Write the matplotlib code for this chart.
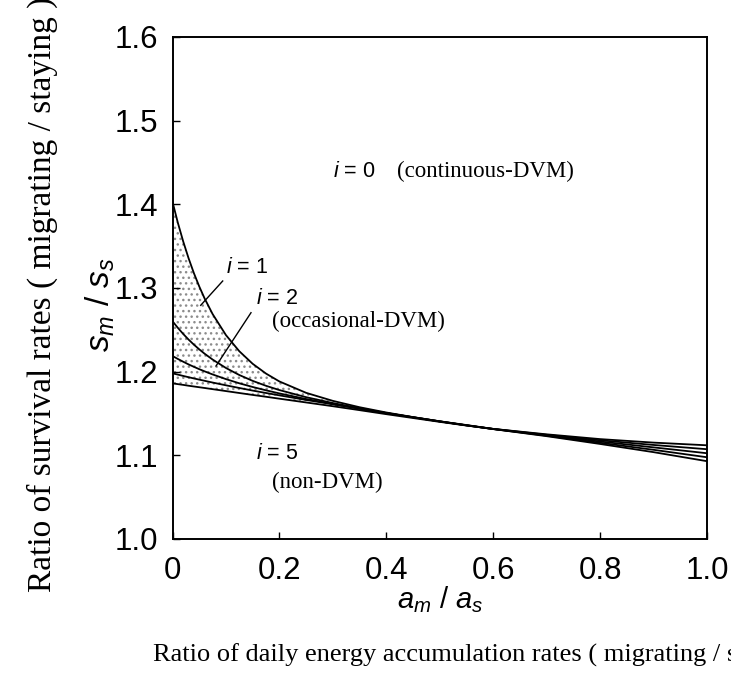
import matplotlib
matplotlib.use("Agg")
import matplotlib.pyplot as plt
import numpy as np

plt.rcParams['mathtext.fontset'] = 'custom'
plt.rcParams['mathtext.it'] = 'Liberation Sans:italic'
plt.rcParams['mathtext.rm'] = 'Liberation Sans'
plt.rcParams['font.family'] = ['Liberation Sans', 'DejaVu Sans']

# ---- data ----
x_ratio = [0, 0.01, 0.02, 0.03, 0.04, 0.05, 0.06, 0.075, 0.1, 0.125, 0.15, 0.175,
           0.2, 0.25, 0.3, 0.35, 0.4, 0.45, 0.5, 0.55, 0.6, 0.7, 0.8, 0.9, 1.0]
s_i1 = [1.4030, 1.3780, 1.3557, 1.3357, 1.3178, 1.3019, 1.2876, 1.2689, 1.2437, 1.2244,
        1.2094, 1.1977, 1.1883, 1.1747, 1.1651, 1.1575, 1.1512, 1.1457, 1.1406, 1.1358,
        1.1314, 1.1229, 1.1136, 1.1038, 1.0930]
s_i2 = [1.2603, 1.2524, 1.2451, 1.2384, 1.2323, 1.2267, 1.2215, 1.2145, 1.2044, 1.1960,
        1.1890, 1.1831, 1.1780, 1.1695, 1.1625, 1.1563, 1.1506, 1.1455, 1.1405, 1.1359,
        1.1314, 1.1235, 1.1150, 1.1066, 1.0977]
s_i3 = [1.2187, 1.2152, 1.2119, 1.2087, 1.2058, 1.2030, 1.2004, 1.1967, 1.1911, 1.1861,
        1.1817, 1.1777, 1.1740, 1.1673, 1.1614, 1.1558, 1.1504, 1.1454, 1.1405, 1.1359,
        1.1315, 1.1240, 1.1165, 1.1095, 1.1025]
s_i4 = [1.1980, 1.1965, 1.1949, 1.1934, 1.1919, 1.1905, 1.1891, 1.1870, 1.1837, 1.1805,
        1.1774, 1.1745, 1.1717, 1.1662, 1.1610, 1.1557, 1.1505, 1.1456, 1.1407, 1.1362,
        1.1316, 1.1245, 1.1180, 1.1124, 1.1073]
s_i5 = [1.1860, 1.1851, 1.1842, 1.1832, 1.1823, 1.1814, 1.1805, 1.1791, 1.1768, 1.1745,
        1.1722, 1.1700, 1.1677, 1.1632, 1.1587, 1.1540, 1.1492, 1.1446, 1.1400, 1.1356,
        1.1316, 1.1251, 1.1194, 1.1152, 1.1120]
curves = [s_i1, s_i2, s_i3, s_i4, s_i5]

x_ticks = [0, 0.2, 0.4, 0.6, 0.8, 1.0]
x_tick_labels = ['0', '0.2', '0.4', '0.6', '0.8', '1.0']
y_ticks = [1.0, 1.1, 1.2, 1.3, 1.4, 1.5, 1.6]
y_tick_labels = ['1.0', '1.1', '1.2', '1.3', '1.4', '1.5', '1.6']
shade_until = 0.42

W, H = 731, 677
fig = plt.figure(figsize=(W / 100, H / 100), dpi=100)
L, R, T, B = 172.5, 707, 37, 539
ax = fig.add_axes([L / W, 1 - B / H, (R - L) / W, (B - T) / H])

xa = np.array(x_ratio)
for c in curves:
    ax.plot(xa, c, color='black', lw=1.3, solid_capstyle='butt')

ax.fill_between(xa, s_i5, s_i1, where=xa <= shade_until + 1e-9, hatch='...',
                facecolor='none', edgecolor='0.55', linewidth=0)

ax.set_xlim(0, 1)
ax.set_ylim(1.0, 1.6)
ax.set_xticks(x_ticks)
ax.set_xticklabels(x_tick_labels)
ax.set_yticks(y_ticks)
ax.set_yticklabels(y_tick_labels)
ax.tick_params(direction='in', length=5, width=1, labelsize=22.5)
ax.tick_params(axis='x', pad=12)
ax.tick_params(axis='y', pad=10)
for s in ax.spines.values():
    s.set_linewidth(1.4)

def px2d(px, py):
    return (px - L) / (R - L), 1.0 + (B - py) / (B - T) * 0.6

sans = 15.5
serif = 16.5
# i = 0
ax.text(*px2d(333, 171), '$i$ = 0', fontsize=sans, va='center', ha='left')
ax.text(*px2d(397, 171), '(continuous-DVM)', fontsize=serif, family='Liberation Serif',
        va='center', ha='left')
# i = 1
ax.text(*px2d(226, 268), '$i$ = 1', fontsize=sans, va='center', ha='left')
p1 = px2d(222.7, 281); p2 = px2d(200.7, 305.3)
ax.plot([p1[0], p2[0]], [p1[1], p2[1]], color='black', lw=1.0)
# i = 2
ax.text(*px2d(256, 298.5), '$i$ = 2', fontsize=sans, va='center', ha='left')
ax.text(*px2d(271.7, 321), '(occasional-DVM)', fontsize=serif, family='Liberation Serif',
        va='center', ha='left')
p1 = px2d(251, 312.7); p2 = px2d(216, 366)
ax.plot([p1[0], p2[0]], [p1[1], p2[1]], color='black', lw=1.0)
# i = 5
ax.text(*px2d(256, 453.5), '$i$ = 5', fontsize=sans, va='center', ha='left')
ax.text(*px2d(272, 482), '(non-DVM)', fontsize=serif, family='Liberation Serif',
        va='center', ha='left')

# axis labels
fig.text(440 / W, 1 - 600 / H, r'$a_m$ / $a_s$', fontsize=21, ha='center', va='center')
fig.text(100 / W, 1 - 305 / H, r'$s_m$ / $s_s$', fontsize=24, ha='center', va='center',
         rotation=90)
fig.text(153 / W, 1 - 655 / H,
         'Ratio of daily energy accumulation rates ( migrating / staying )',
         fontsize=19, family='Liberation Serif', ha='left', va='center')
fig.text(42 / W, 1 - 592 / H, 'Ratio of survival rates ( migrating / staying )',
         fontsize=24, family='Liberation Serif', ha='left', va='center', rotation=90,
         rotation_mode='anchor')

fig.savefig('out.png', dpi=100)
